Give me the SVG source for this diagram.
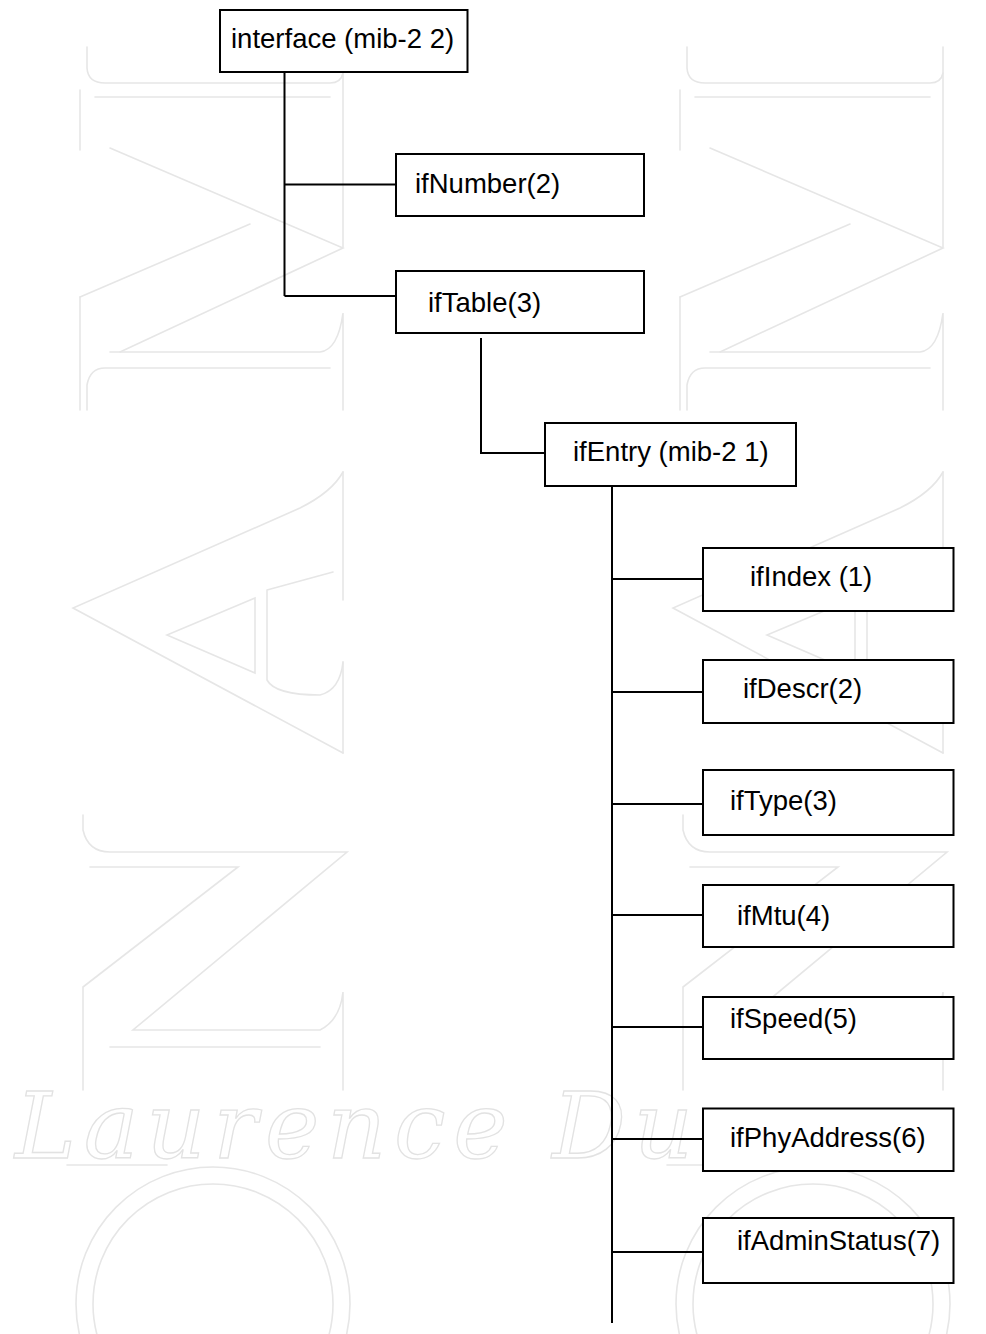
<svg xmlns="http://www.w3.org/2000/svg" xmlns:xlink="http://www.w3.org/1999/xlink" width="986" height="1334" viewBox="0 0 986 1334">
<style>
.wm{fill:none;stroke:#e6e6e6;stroke-width:1.6;stroke-linecap:round}
.wmt{fill:none;stroke:#e2e2e2;stroke-width:1.3;font-family:"DejaVu Serif","Liberation Serif",serif;font-style:italic;font-size:92px}
.box{fill:#fff;stroke:#000;stroke-width:2}
.lbl{font-family:"Liberation Sans",Arial,sans-serif;font-size:27.5px;fill:#000}
.con{fill:none;stroke:#000;stroke-width:2}
</style>
<defs>
<g id="wmM">
<path d="M87,47 V68 Q88,83 105,83 H330 Q341,83 343,73"/>
<path d="M343,47 V247"/>
<path d="M95,97 H330"/>
<path d="M110,148 L343,248 L120,352"/>
<path d="M80,297 L250,224"/>
<path d="M110,352 H320 Q338,350 343,313 V410"/>
<path d="M87,410 V385 Q90,368 105,368 H330"/>
<path d="M80,90 V150 M80,297 V410"/>
</g>
<g id="wmA">
<path d="M343,472 Q332,492 300,508 L73,608 L343,753"/>
<path d="M343,472 V600 M343,662 V753"/>
<path d="M255,598 L167,635 L255,673 Z"/>
<path d="M267,590 L333,572 M267,590 V680 Q275,695 320,695 Q340,690 343,662"/>
</g>
<g id="wmZ">
<path d="M83,815 V830 Q88,852 110,852 H347 L133,1030 H320 Q340,1020 343,992 V1090"/>
<path d="M90,867 H238 L83,987 V1090"/>
<path d="M110,1047 H320"/>
</g>
<g id="wmO">
<circle cx="213" cy="1304" r="137"/>
<circle cx="213" cy="1304" r="120"/>
<path d="M67,1165 H167"/>
</g>
</defs>
<rect x="0" y="0" width="986" height="1334" fill="#fff"/>
<g id="watermark">
<g class="wm">
<use xlink:href="#wmM"/>
<use xlink:href="#wmM" transform="translate(600,0)"/>
<use xlink:href="#wmA"/>
<use xlink:href="#wmA" transform="translate(600,0)"/>
<use xlink:href="#wmZ"/>
<use xlink:href="#wmZ" transform="translate(600,0)"/>
<use xlink:href="#wmO"/>
<use xlink:href="#wmO" transform="translate(600,0)"/>
</g>
<text class="wmt" x="15" y="1158" textLength="678" lengthAdjust="spacing">Laurence Du</text>
</g>
<g id="connectors" class="con">
<path d="M284.5,72 V296"/>
<path d="M284.5,184.5 H396"/>
<path d="M284.5,296 H396"/>
<path d="M481,338 V453 H545"/>
<path d="M612,486 V1323"/>
<path d="M612,579 H703"/>
<path d="M612,692 H703"/>
<path d="M612,804 H703"/>
<path d="M612,915 H703"/>
<path d="M612,1027 H703"/>
<path d="M612,1139 H703"/>
<path d="M612,1252 H703"/>
</g>
<g id="interface"><rect class="box" x="220" y="10" width="247.5" height="62"/><text class="lbl" x="231" y="48">interface (mib-2 2)</text></g>
<g id="ifNumber"><rect class="box" x="396" y="154" width="248" height="62"/><text class="lbl" x="415" y="193">ifNumber(2)</text></g>
<g id="ifTable"><rect class="box" x="396" y="271" width="248" height="62"/><text class="lbl" x="428" y="312">ifTable(3)</text></g>
<g id="ifEntry"><rect class="box" x="545" y="423" width="251" height="63"/><text class="lbl" x="573" y="461">ifEntry (mib-2 1)</text></g>
<g id="ifIndex"><rect class="box" x="703" y="548" width="250.5" height="63"/><text class="lbl" x="750" y="586">ifIndex (1)</text></g>
<g id="ifDescr"><rect class="box" x="703" y="660" width="250.5" height="63"/><text class="lbl" x="743" y="698">ifDescr(2)</text></g>
<g id="ifType"><rect class="box" x="703" y="770" width="250.5" height="65"/><text class="lbl" x="730" y="810">ifType(3)</text></g>
<g id="ifMtu"><rect class="box" x="703" y="885" width="250.5" height="62"/><text class="lbl" x="737" y="925">ifMtu(4)</text></g>
<g id="ifSpeed"><rect class="box" x="703" y="997" width="250.5" height="62"/><text class="lbl" x="730" y="1028">ifSpeed(5)</text></g>
<g id="ifPhyAddress"><rect class="box" x="703" y="1108.5" width="250.5" height="62.5"/><text class="lbl" x="730" y="1147">ifPhyAddress(6)</text></g>
<g id="ifAdminStatus"><rect class="box" x="703" y="1218" width="250.5" height="65"/><text class="lbl" x="737" y="1250">ifAdminStatus(7)</text></g>
</svg>
